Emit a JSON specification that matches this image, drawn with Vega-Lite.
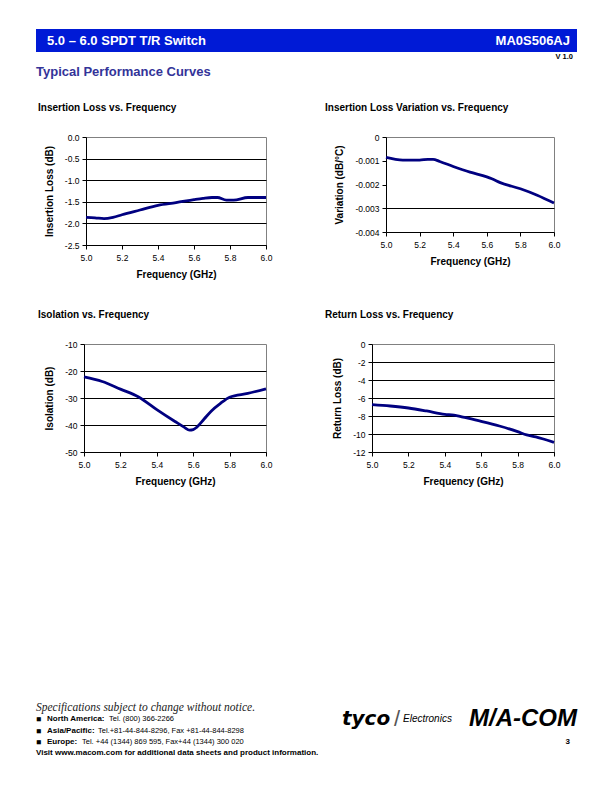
{
  "$schema": "https://vega.github.io/schema/vega-lite/v6.json",
  "padding": {"left": 36, "top": 29, "right": 4, "bottom": 4},
  "spacing": 0,
  "config": {
    "font": "Liberation Sans",
    "locale": {"number": {"decimal": ".", "thousands": ",", "grouping": [3], "currency": ["$", ""], "minus": "-"}},
    "view": {"stroke": null},
    "axis": {
      "domainColor": "#000000", "tickColor": "#000000", "labelColor": "#000000", "titleColor": "#000000",
      "labelFont": "Liberation Sans", "titleFont": "Liberation Sans",
      "labelFontSize": 8.5, "titleFontSize": 10, "titleFontWeight": "bold",
      "tickSize": 4, "labelPadding": 3, "domainWidth": 1, "tickWidth": 1,
      "gridColor": "#000000", "gridWidth": 1
    },
    "axisX": {"grid": false, "labelFlush": false, "labelPadding": 4, "titlePadding": 8},
    "axisY": {"titlePadding": 10},
    "title": {"anchor": "start", "frame": "group", "fontSize": 10, "fontWeight": "bold", "color": "#000000", "baseline": "alphabetic", "offset": 20, "font": "Liberation Sans"}
  },
  "vconcat": [
    {
      "width": 541, "height": 23,
      "view": {"fill": "#001ad6", "stroke": null},
      "layer": [
        {
          "data": {"values": [{"label": "5.0 – 6.0 SPDT T/R Switch"}]},
          "mark": {"type": "text", "align": "left", "baseline": "middle", "dx": 11, "fontSize": 13, "fontWeight": "bold", "color": "#ffffff"},
          "encoding": {"x": {"value": 0}, "text": {"field": "label"}}
        },
        {
          "data": {"values": [{"label": "MA0S506AJ"}]},
          "mark": {"type": "text", "align": "right", "baseline": "middle", "dx": -7, "fontSize": 13, "fontWeight": "bold", "color": "#ffffff"},
          "encoding": {"x": {"value": "width"}, "text": {"field": "label"}}
        }
      ]
    },
    {
      "width": 541, "height": 10,
      "data": {"values": [{"label": "V 1.0"}]},
      "mark": {"type": "text", "align": "right", "baseline": "middle", "dx": -4, "fontSize": 7.5, "fontWeight": "bold", "color": "#000000"},
      "encoding": {"x": {"value": "width"}, "text": {"field": "label"}}
    },
    {
      "width": 541, "height": 20,
      "data": {"values": [{"label": "Typical Performance Curves"}]},
      "mark": {"type": "text", "align": "left", "baseline": "middle", "fontSize": 13, "fontWeight": "bold", "color": "#333399"},
      "encoding": {"x": {"value": 0}, "text": {"field": "label"}}
    },
    {
      "width": 541, "height": 20,
      "data": {"values": [{}]},
      "mark": {"type": "rect", "opacity": 0},
      "encoding": {}
    },
    {
      "spacing": 0,
      "hconcat": [
        {
          "width": 1, "height": 1,
          "data": {"values": [{}]},
          "mark": {"type": "rect", "opacity": 0},
          "encoding": {}
        },
        {
          "bounds": "flush",
          "spacing": 120,
          "hconcat": [
            {
              "width": 180, "height": 108,
              "view": {"stroke": "#808080"},
              "title": {"text": "Insertion Loss vs. Frequency", "dx": -48},
              "data": {"values": [
                {"freq": 5.0, "loss": -1.86}, {"freq": 5.05, "loss": -1.87}, {"freq": 5.1, "loss": -1.89},
                {"freq": 5.15, "loss": -1.86}, {"freq": 5.2, "loss": -1.8}, {"freq": 5.3, "loss": -1.69},
                {"freq": 5.4, "loss": -1.58}, {"freq": 5.5, "loss": -1.52}, {"freq": 5.6, "loss": -1.45},
                {"freq": 5.65, "loss": -1.42}, {"freq": 5.7, "loss": -1.4}, {"freq": 5.73, "loss": -1.4},
                {"freq": 5.78, "loss": -1.46}, {"freq": 5.82, "loss": -1.46}, {"freq": 5.9, "loss": -1.4},
                {"freq": 6.0, "loss": -1.4}
              ]},
              "mark": {"type": "line", "color": "#000080", "strokeWidth": 2.8, "interpolate": "monotone"},
              "encoding": {
                "x": {"field": "freq", "type": "quantitative", "scale": {"domain": [5, 6]},
                      "axis": {"title": "Frequency (GHz)", "values": [5, 5.2, 5.4, 5.6, 5.8, 6], "format": ".1f"}},
                "y": {"field": "loss", "type": "quantitative", "scale": {"domain": [-2.5, 0]},
                      "axis": {"title": "Insertion Loss (dB)", "values": [-2.5, -2, -1.5, -1, -0.5, 0], "format": ".1f",
                               "gridOpacity": {"condition": {"test": "datum.value === 0", "value": 0}, "value": 1}}}
              }
            },
            {
              "width": 168, "height": 95,
              "view": {"stroke": "#808080"},
              "title": {"text": "Insertion Loss Variation vs. Frequency", "dx": -61},
              "data": {"values": [
                {"freq": 5.0, "variation": -0.00086}, {"freq": 5.05, "variation": -0.00093}, {"freq": 5.1, "variation": -0.00097},
                {"freq": 5.2, "variation": -0.00097}, {"freq": 5.25, "variation": -0.00094}, {"freq": 5.28, "variation": -0.00094},
                {"freq": 5.32, "variation": -0.00103}, {"freq": 5.4, "variation": -0.00124}, {"freq": 5.5, "variation": -0.00148},
                {"freq": 5.6, "variation": -0.00168}, {"freq": 5.63, "variation": -0.00176}, {"freq": 5.68, "variation": -0.00192},
                {"freq": 5.8, "variation": -0.00218}, {"freq": 5.9, "variation": -0.00245}, {"freq": 6.0, "variation": -0.00278}
              ]},
              "mark": {"type": "line", "color": "#000080", "strokeWidth": 2.8, "interpolate": "monotone"},
              "encoding": {
                "x": {"field": "freq", "type": "quantitative", "scale": {"domain": [5, 6]},
                      "axis": {"title": "Frequency (GHz)", "values": [5, 5.2, 5.4, 5.6, 5.8, 6], "format": ".1f"}},
                "y": {"field": "variation", "type": "quantitative", "scale": {"domain": [-0.004, 0]},
                      "axis": {"title": "Variation (dB/°C)", "values": [-0.004, -0.003, -0.002, -0.001, 0], "format": ".3~f",
                               "gridOpacity": {"condition": {"test": "abs(datum.value + 0.003) < 0.00001", "value": 1}, "value": 0}}}
              }
            }
          ]
        }
      ]
    },
    {
      "width": 541, "height": 29,
      "data": {"values": [{}]},
      "mark": {"type": "rect", "opacity": 0},
      "encoding": {}
    },
    {
      "spacing": 0,
      "hconcat": [
        {
          "width": 1, "height": 1,
          "data": {"values": [{}]},
          "mark": {"type": "rect", "opacity": 0},
          "encoding": {}
        },
        {
          "bounds": "flush",
          "spacing": 106,
          "hconcat": [
            {
              "width": 182, "height": 108,
              "view": {"stroke": "#808080"},
              "title": {"text": "Isolation vs. Frequency", "dx": -46},
              "data": {"values": [
                {"freq": 5.0, "isolation": -22.2}, {"freq": 5.1, "isolation": -23.9}, {"freq": 5.2, "isolation": -26.7},
                {"freq": 5.3, "isolation": -29.6}, {"freq": 5.4, "isolation": -34.3}, {"freq": 5.5, "isolation": -38.7},
                {"freq": 5.55, "isolation": -40.8}, {"freq": 5.58, "isolation": -41.9}, {"freq": 5.6, "isolation": -41.7},
                {"freq": 5.62, "isolation": -40.8}, {"freq": 5.66, "isolation": -37.8}, {"freq": 5.7, "isolation": -34.8},
                {"freq": 5.75, "isolation": -32.0}, {"freq": 5.8, "isolation": -29.7}, {"freq": 5.9, "isolation": -28.3},
                {"freq": 6.0, "isolation": -26.6}
              ]},
              "mark": {"type": "line", "color": "#000080", "strokeWidth": 2.8, "interpolate": "monotone"},
              "encoding": {
                "x": {"field": "freq", "type": "quantitative", "scale": {"domain": [5, 6]},
                      "axis": {"title": "Frequency (GHz)", "values": [5, 5.2, 5.4, 5.6, 5.8, 6], "format": ".1f"}},
                "y": {"field": "isolation", "type": "quantitative", "scale": {"domain": [-50, -10]},
                      "axis": {"title": "Isolation (dB)", "values": [-50, -40, -30, -20, -10], "format": "d",
                               "gridOpacity": {"condition": {"test": "datum.value === -10", "value": 0}, "value": 1}}}
              }
            },
            {
              "width": 182, "height": 108,
              "view": {"stroke": "#808080"},
              "title": {"text": "Return Loss vs. Frequency", "dx": -47},
              "data": {"values": [
                {"freq": 5.0, "return_loss": -6.74}, {"freq": 5.1, "return_loss": -6.89}, {"freq": 5.2, "return_loss": -7.11},
                {"freq": 5.3, "return_loss": -7.44}, {"freq": 5.4, "return_loss": -7.81}, {"freq": 5.45, "return_loss": -7.89},
                {"freq": 5.5, "return_loss": -8.12}, {"freq": 5.6, "return_loss": -8.59}, {"freq": 5.7, "return_loss": -9.11},
                {"freq": 5.8, "return_loss": -9.74}, {"freq": 5.85, "return_loss": -10.1}, {"freq": 5.9, "return_loss": -10.32},
                {"freq": 6.0, "return_loss": -10.93}
              ]},
              "mark": {"type": "line", "color": "#000080", "strokeWidth": 2.8, "interpolate": "monotone"},
              "encoding": {
                "x": {"field": "freq", "type": "quantitative", "scale": {"domain": [5, 6]},
                      "axis": {"title": "Frequency (GHz)", "values": [5, 5.2, 5.4, 5.6, 5.8, 6], "format": ".1f"}},
                "y": {"field": "return_loss", "type": "quantitative", "scale": {"domain": [-12, 0]},
                      "axis": {"title": "Return Loss (dB)", "values": [-12, -10, -8, -6, -4, -2, 0], "format": "d",
                               "gridOpacity": {"condition": {"test": "datum.value === 0", "value": 0}, "value": 1}}}
              }
            }
          ]
        }
      ]
    },
    {
      "width": 541, "height": 214,
      "data": {"values": [{}]},
      "mark": {"type": "rect", "opacity": 0},
      "encoding": {}
    },
    {
      "width": 541, "height": 57,
      "encoding": {
        "y": {"field": "line", "type": "nominal", "scale": {"domain": ["l1", "l2", "l3", "l4", "l5"]}, "axis": null}
      },
      "layer": [
        {
          "data": {"values": [{"line": "l1", "t": "Specifications subject to change without notice."}]},
          "mark": {"type": "text", "align": "left", "baseline": "middle", "font": "Liberation Serif", "fontStyle": "italic", "fontSize": 11.5, "color": "#222222"},
          "encoding": {"x": {"value": 0}, "text": {"field": "t"}}
        },
        {
          "data": {"values": [{"line": "l2"}, {"line": "l3"}, {"line": "l4"}]},
          "mark": {"type": "text", "align": "left", "baseline": "middle", "fontSize": 8.5, "color": "#000000"},
          "encoding": {"x": {"value": 0}, "text": {"value": "■"}}
        },
        {
          "data": {"values": [{"line": "l2", "t": "North America:"}, {"line": "l3", "t": "Asia/Pacific:"}, {"line": "l4", "t": "Europe:"}]},
          "mark": {"type": "text", "align": "left", "baseline": "middle", "dx": 11, "fontSize": 8, "fontWeight": "bold", "color": "#000000"},
          "encoding": {"x": {"value": 0}, "text": {"field": "t"}}
        },
        {
          "data": {"values": [{"line": "l2", "t": "Tel. (800) 366-2266"}]},
          "mark": {"type": "text", "align": "left", "baseline": "middle", "dx": 73, "fontSize": 7.5, "color": "#000000"},
          "encoding": {"x": {"value": 0}, "text": {"field": "t"}}
        },
        {
          "data": {"values": [{"line": "l3", "t": "Tel.+81-44-844-8296,  Fax +81-44-844-8298"}]},
          "mark": {"type": "text", "align": "left", "baseline": "middle", "dx": 62, "fontSize": 7.5, "color": "#000000"},
          "encoding": {"x": {"value": 0}, "text": {"field": "t"}}
        },
        {
          "data": {"values": [{"line": "l4", "t": "Tel. +44 (1344) 869 595,  Fax+44 (1344) 300 020"}]},
          "mark": {"type": "text", "align": "left", "baseline": "middle", "dx": 46, "fontSize": 7.5, "color": "#000000"},
          "encoding": {"x": {"value": 0}, "text": {"field": "t"}}
        },
        {
          "data": {"values": [{"line": "l5", "t": "Visit www.macom.com for additional data sheets and product information."}]},
          "mark": {"type": "text", "align": "left", "baseline": "middle", "fontSize": 8, "fontWeight": "bold", "color": "#000000"},
          "encoding": {"x": {"value": 0}, "text": {"field": "t"}}
        },
        {
          "data": {"values": [{"line": "l2", "t": "tyco"}]},
          "mark": {"type": "text", "align": "left", "baseline": "middle", "dx": -235, "font": "DejaVu Sans", "fontSize": 20, "fontWeight": "bold", "fontStyle": "italic", "color": "#000000"},
          "encoding": {"x": {"value": "width"}, "text": {"field": "t"}}
        },
        {
          "data": {"values": [{"line": "l2", "t": "/"}]},
          "mark": {"type": "text", "align": "center", "baseline": "middle", "dx": -180, "fontSize": 22, "color": "#555555"},
          "encoding": {"x": {"value": "width"}, "text": {"field": "t"}}
        },
        {
          "data": {"values": [{"line": "l2", "t": "Electronics"}]},
          "mark": {"type": "text", "align": "left", "baseline": "middle", "dx": -174, "fontSize": 10, "fontStyle": "italic", "color": "#000000"},
          "encoding": {"x": {"value": "width"}, "text": {"field": "t"}}
        },
        {
          "data": {"values": [{"line": "l2", "t": "M/A-COM"}]},
          "mark": {"type": "text", "align": "right", "baseline": "middle", "fontSize": 24, "fontWeight": "bold", "fontStyle": "italic", "color": "#000000"},
          "encoding": {"x": {"value": "width"}, "text": {"field": "t"}}
        },
        {
          "data": {"values": [{"line": "l4", "t": "3"}]},
          "mark": {"type": "text", "align": "right", "baseline": "middle", "dx": -7, "fontSize": 8, "fontWeight": "bold", "color": "#000000"},
          "encoding": {"x": {"value": "width"}, "text": {"field": "t"}}
        }
      ]
    }
  ]
}
